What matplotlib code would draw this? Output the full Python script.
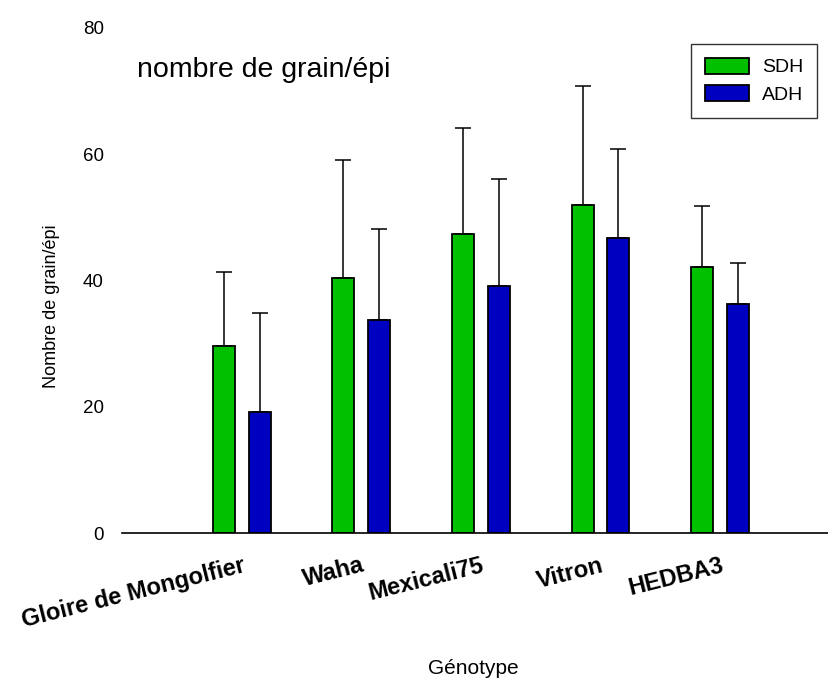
import matplotlib
matplotlib.use("Agg")
import matplotlib.pyplot as plt
import numpy as np

genotypes = ["Gloire de Mongolfier", "Waha", "Mexicali75", "Vitron", "HEDBA3"]
sdh_mean = [29.6, 40.4, 47.3, 52.0, 42.2]
sdh_err = [11.8, 18.7, 16.8, 18.8, 9.6]
adh_mean = [19.1, 33.7, 39.1, 46.7, 36.2]
adh_err = [15.8, 14.4, 17.0, 14.1, 6.5]
series_names = ["SDH", "ADH"]
yticks = [0, 20, 40, 60, 80]

plt.rcParams['font.family'] = ['Liberation Sans', 'DejaVu Sans']

fig = plt.figure(figsize=(8.29, 6.84), dpi=100)
ax = fig.add_axes([122/829, (684-533)/684, (829-122)/829, 505/684])

x = np.arange(len(genotypes))
off = 0.15
w = 0.184
green = "#00C000"
blue = "#0000C0"
ekw = dict(ecolor="black", elinewidth=1.1, capsize=5.5, capthick=1.1)

ax.bar(x - off, sdh_mean, w, color=green, edgecolor="black", linewidth=1.3,
       label=series_names[0], zorder=3)
ax.errorbar(x - off, sdh_mean, yerr=[np.zeros(len(x)), sdh_err], fmt="none", zorder=2, **ekw)
ax.bar(x + off, adh_mean, w, color=blue, edgecolor="black", linewidth=1.3,
       label=series_names[1], zorder=3)
ax.errorbar(x + off, adh_mean, yerr=[np.zeros(len(x)), adh_err], fmt="none", zorder=2, **ekw)

ax.set_xlim(-1.0, 4.91)
ax.set_ylim(0, 80)
ax.set_yticks(yticks)
ax.set_yticklabels([str(v) for v in yticks], fontsize=13.5)
ax.tick_params(axis="y", length=0, pad=13)
ax.set_xticks(x)
ax.set_xticklabels(genotypes, fontsize=17, fontweight="bold", rotation=14,
                   ha="right", va="top", rotation_mode="anchor")
ax.tick_params(axis="x", length=0, pad=15)

for s in ["left", "right", "top"]:
    ax.spines[s].set_visible(False)
ax.spines["bottom"].set_linewidth(1.2)
ax.spines["bottom"].set_zorder(4)

leg = ax.legend(loc="upper right", bbox_to_anchor=((817-122)/707, (533-44)/505),
                borderaxespad=0, fontsize=14, fancybox=False, frameon=True,
                edgecolor="black", handlelength=2.27, handleheight=0.85,
                handletextpad=0.67, borderpad=0.72, labelspacing=0.45)
leg.get_frame().set_linewidth(1.0)

fig.text(137/829, 1 - 70/684, "nombre de grain/épi", fontsize=20.5, ha="left", va="center")
fig.text(52/829, 1 - 306/684, "Nombre de grain/épi", fontsize=13, rotation=90,
         ha="center", va="center")
fig.text(473/829, 1 - 668/684, "Génotype", fontsize=15, ha="center", va="center")

fig.savefig("out.png", dpi=100)
